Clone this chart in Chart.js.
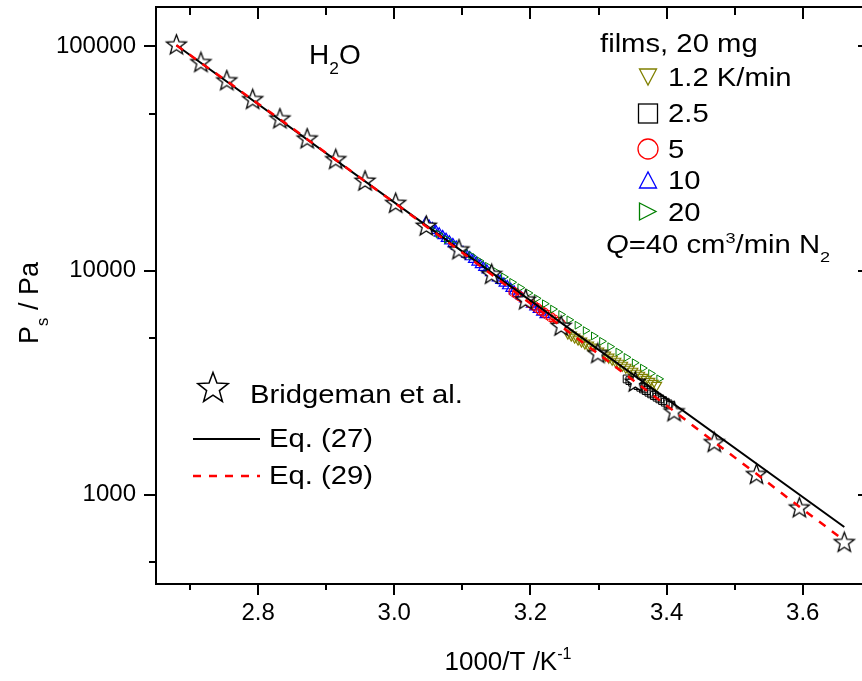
<!DOCTYPE html>
<html><head><meta charset="utf-8">
<script src="https://cdn.jsdelivr.net/npm/chart.js@4.4.0/dist/chart.umd.min.js"></script>
<style>html,body{margin:0;padding:0;background:#fff;}canvas{display:block;}</style>
</head><body>
<canvas id="c" width="862" height="681"></canvas>
<script>
// ---------- data ----------
const starX = [2.680, 2.716, 2.754, 2.792, 2.832, 2.872, 2.914, 2.957, 3.002, 3.047, 3.095, 3.143, 3.193, 3.245, 3.299, 3.354, 3.411, 3.470, 3.532, 3.595, 3.661];
const starP = [101300, 84500, 70100, 57800, 47400, 38600, 31200, 25000, 19900, 15750, 12350, 9590, 7380, 5630, 4250, 3170, 2340, 1705, 1228, 872, 611];

const eq27X = [2.680, 3.170, 3.661];
const eq27P = [101300, 8550, 718];

const eq29X = [2.680, 2.716, 2.754, 2.792, 2.832, 2.872, 2.914, 2.957, 3.002, 3.047, 3.095, 3.143, 3.193, 3.245, 3.299, 3.354, 3.411, 3.470, 3.532, 3.595, 3.661];
const eq29P = [101300, 84500, 70100, 57800, 47400, 38600, 31200, 25000, 19900, 15750, 12350, 9600, 7400, 5650, 4270, 3190, 2360, 1720, 1240, 885, 625];

const olive12X = [3.255, 3.260, 3.265, 3.270, 3.275, 3.280, 3.285, 3.290, 3.295, 3.300, 3.305, 3.310, 3.315, 3.320, 3.325, 3.330, 3.335, 3.340, 3.345, 3.350, 3.355, 3.360, 3.365, 3.370, 3.375, 3.380, 3.385];
const olive12P = [5262, 5155, 5050, 4947, 4846, 4747, 4650, 4555, 4462, 4371, 4282, 4195, 4109, 4025, 3943, 3863, 3784, 3707, 3631, 3557, 3485, 3414, 3344, 3276, 3209, 3144, 3080];

const black25X = [3.342, 3.346, 3.350, 3.354, 3.358, 3.362, 3.366, 3.370, 3.374, 3.378, 3.382, 3.386, 3.390, 3.394, 3.398, 3.402, 3.406];
const black25P = [3287, 3232, 3177, 3123, 3070, 3018, 2967, 2917, 2868, 2819, 2772, 2725, 2679, 2633, 2589, 2545, 2502];

const red5X = [3.175, 3.180, 3.185, 3.190, 3.195, 3.200, 3.205, 3.210, 3.215, 3.220, 3.225, 3.230, 3.235, 3.240, 3.245];
const red5P = [8035, 7849, 7665, 7487, 7311, 7141, 6975, 6812, 6653, 6497, 6346, 6198, 6053, 5912, 5774];

const blue10X = [3.046, 3.051, 3.056, 3.061, 3.066, 3.071, 3.076, 3.081, 3.086, 3.091, 3.096, 3.101, 3.106, 3.111, 3.116, 3.121, 3.126, 3.131, 3.136, 3.141, 3.146, 3.151, 3.156, 3.161, 3.166, 3.171, 3.176, 3.181, 3.186, 3.191, 3.196, 3.201, 3.206, 3.211, 3.216, 3.221];
const blue10P = [16350, 15918, 15488, 15076, 14673, 14284, 13900, 13530, 13167, 12817, 12474, 12142, 11816, 11502, 11194, 10896, 10605, 10323, 10046, 9779, 9517, 9264, 9016, 8776, 8541, 8314, 8091, 7876, 7665, 7461, 7261, 7068, 6879, 6696, 6516, 6343];

const green20X = [3.053, 3.065, 3.077, 3.089, 3.101, 3.113, 3.125, 3.137, 3.149, 3.161, 3.173, 3.185, 3.197, 3.209, 3.221, 3.233, 3.245, 3.257, 3.269, 3.281, 3.293, 3.305, 3.317, 3.329, 3.341, 3.353, 3.365, 3.377, 3.389];
const green20P = [15382, 14557, 13777, 13039, 12341, 11681, 11055, 10463, 9902, 9372, 8870, 8395, 7945, 7519, 7117, 6735, 6374, 6033, 5709, 5403, 5114, 4839, 4580, 4335, 4102, 3882, 3674, 3477, 3290];

const xMajorTicks = [2.8, 3.0, 3.2, 3.4, 3.6];
const xMinorTicks = [2.7, 2.9, 3.1, 3.3, 3.5];
const yMajorTicks = [1000, 10000, 100000];
const yMinorTicks = [500, 5000, 50000];

// ---------- helpers ----------
const FAMILY = "'Liberation Sans', Arial, Helvetica, sans-serif";
function pts(xs, ys) { return xs.map((x, i) => ({ x: x, y: ys[i] })); }

function starPath(ctx, cx, cy, R, ratio) {
  const r = R * ratio;
  ctx.beginPath();
  for (let k = 0; k < 10; k++) {
    const rad = -Math.PI / 2 + k * Math.PI / 5;
    const rr = (k % 2 === 0) ? R : r;
    const px = cx + rr * Math.cos(rad), py = cy + rr * Math.sin(rad);
    if (k === 0) ctx.moveTo(px, py); else ctx.lineTo(px, py);
  }
  ctx.closePath();
}
function makeStar(R, lw) {
  const c = document.createElement('canvas');
  const s = Math.ceil(2 * R + 4);
  c.width = s; c.height = s;
  const g = c.getContext('2d');
  starPath(g, s / 2, s / 2, R, 0.42);
  g.fillStyle = '#fff'; g.fill();
  g.lineWidth = lw; g.strokeStyle = '#000'; g.lineJoin = 'miter'; g.stroke();
  return c;
}

function richText(ctx, runs, x, y, size, sx, align) {
  const parts = runs.map(function (r) {
    const t = r[0], k = r[1] || '';
    const s = (k === 'sub' || k === 'sup') ? size * 0.62 : size;
    const f = (k === 'i' ? 'italic ' : '') + s + 'px ' + FAMILY;
    ctx.font = f;
    return { t: t, k: k, f: f, w: ctx.measureText(t).width * sx };
  });
  const total = parts.reduce((a, p) => a + p.w, 0);
  let cx = align === 'center' ? x - total / 2 : x;
  ctx.textAlign = 'left'; ctx.textBaseline = 'alphabetic';
  parts.forEach(function (p) {
    const dy = p.k === 'sub' ? size * 0.36 : (p.k === 'sup' ? -size * 0.42 : 0);
    ctx.save(); ctx.font = p.f; ctx.translate(cx, y + dy); ctx.scale(sx, 1);
    ctx.fillText(p.t, 0, 0); ctx.restore();
    cx += p.w;
  });
}

const deco = {
  id: 'deco',
  afterDraw(chart) {
    const ctx = chart.ctx, a = chart.chartArea, xs = chart.scales.x, ys = chart.scales.y;
    const R = a.right + 7;
    ctx.save();
    ctx.strokeStyle = '#000'; ctx.fillStyle = '#000'; ctx.lineWidth = 2; ctx.lineCap = 'butt';
    ctx.beginPath();
    ctx.moveTo(R, a.top); ctx.lineTo(a.left, a.top); ctx.lineTo(a.left, a.bottom); ctx.lineTo(R, a.bottom); ctx.lineTo(R, a.top);
    ctx.stroke();
    ctx.beginPath();
    xMajorTicks.forEach(v => { const p = Math.round(xs.getPixelForValue(v)); ctx.moveTo(p, a.bottom); ctx.lineTo(p, a.bottom + 11); ctx.moveTo(p, a.top); ctx.lineTo(p, a.top + 12); });
    xMinorTicks.forEach(v => { const p = Math.round(xs.getPixelForValue(v)); ctx.moveTo(p, a.bottom); ctx.lineTo(p, a.bottom + 6); ctx.moveTo(p, a.top); ctx.lineTo(p, a.top + 8); });
    yMajorTicks.forEach(v => { const p = Math.round(ys.getPixelForValue(v)); ctx.moveTo(a.left - 12, p); ctx.lineTo(a.left, p); ctx.moveTo(R - 11, p); ctx.lineTo(R, p); });
    yMinorTicks.forEach(v => { const p = Math.round(ys.getPixelForValue(v)); ctx.moveTo(a.left - 7, p); ctx.lineTo(a.left, p); ctx.moveTo(R - 6, p); ctx.lineTo(R, p); });
    ctx.stroke();

    richText(ctx, [['1000/T /K'], ['-1', 'sup']], 508, 670, 26, 1, 'center');
    ctx.save(); ctx.translate(38, 303); ctx.rotate(-Math.PI / 2);
    richText(ctx, [['P'], ['s', 'sub'], [' / Pa']], 0, 0, 27, 1, 'center');
    ctx.restore();

    richText(ctx, [['H'], ['2', 'sub'], ['O']], 309, 64, 28, 1, 'left');

    const LS = 25, SX = 1.17;
    starPath(ctx, 213, 388.5, 16, 0.42); ctx.save(); ctx.lineWidth = 1.5; ctx.fillStyle = '#fff'; ctx.fill(); ctx.stroke(); ctx.restore();
    richText(ctx, [['Bridgeman et al.']], 250, 403, LS, SX, 'left');
    ctx.beginPath(); ctx.moveTo(193, 439); ctx.lineTo(260, 439); ctx.lineWidth = 2; ctx.strokeStyle = '#000'; ctx.stroke();
    richText(ctx, [['Eq. (27)']], 269, 447, LS, SX, 'left');
    ctx.save(); ctx.setLineDash([8, 8]); ctx.beginPath(); ctx.moveTo(193, 476); ctx.lineTo(260, 476); ctx.lineWidth = 2.5; ctx.strokeStyle = '#ff0000'; ctx.stroke(); ctx.restore();
    richText(ctx, [['Eq. (29)']], 269, 484, LS, SX, 'left');

    richText(ctx, [['films, 20 mg']], 600, 52, LS, SX, 'left');
    ctx.lineWidth = 1.3;
    ctx.strokeStyle = '#808000'; ctx.beginPath(); ctx.moveTo(639.5, 69); ctx.lineTo(656.5, 69); ctx.lineTo(648, 85); ctx.closePath(); ctx.stroke();
    ctx.strokeStyle = '#000'; ctx.strokeRect(638.5, 104, 19, 19);
    ctx.strokeStyle = '#ff0000'; ctx.beginPath(); ctx.arc(648, 149, 10, 0, Math.PI * 2); ctx.stroke();
    ctx.strokeStyle = '#0000ff'; ctx.beginPath(); ctx.moveTo(639.5, 188); ctx.lineTo(656.5, 188); ctx.lineTo(648, 172); ctx.closePath(); ctx.stroke();
    ctx.strokeStyle = '#008000'; ctx.beginPath(); ctx.moveTo(639.5, 203); ctx.lineTo(639.5, 220); ctx.lineTo(656, 211.5); ctx.closePath(); ctx.stroke();
    ctx.fillStyle = '#000';
    richText(ctx, [['1.2 K/min']], 668, 86, LS, SX, 'left');
    richText(ctx, [['2.5']], 668, 122, LS, SX, 'left');
    richText(ctx, [['5']], 668, 158, LS, SX, 'left');
    richText(ctx, [['10']], 668, 189, LS, SX, 'left');
    richText(ctx, [['20']], 668, 221, LS, SX, 'left');
    richText(ctx, [['Q', 'i'], ['=40 cm'], ['3', 'sup'], ['/min N'], ['2', 'sub']], 606, 253, LS, SX, 'left');
    ctx.restore();
  }
};

const starImg = makeStar(10.5, 1.3);

// lower index = drawn on top
const datasets = [
  { label: 'Eq. (29)', data: pts(eq29X, eq29P), showLine: true, borderColor: '#ff0000', borderWidth: 2.5, borderDash: [8, 8], pointRadius: 0, pointHoverRadius: 0, fill: false, tension: 0 },
  { label: 'Eq. (27)', data: pts(eq27X, eq27P), showLine: true, borderColor: '#000000', borderWidth: 2, pointRadius: 0, pointHoverRadius: 0, fill: false, tension: 0 },
  { label: 'Bridgeman et al.', data: pts(starX, starP), pointStyle: starImg, pointRadius: 10 },
  { label: '2.5', data: pts(black25X, black25P), pointStyle: 'rect', pointRadius: 5.5, pointBorderColor: '#000000', pointBackgroundColor: 'rgba(0,0,0,0)', pointBorderWidth: 1, borderColor: '#000000', backgroundColor: 'rgba(0,0,0,0)' },
  { label: '1.2 K/min', data: pts(olive12X, olive12P), pointStyle: 'triangle', pointRotation: 180, pointRadius: 6, pointBorderColor: '#808000', pointBackgroundColor: 'rgba(0,0,0,0)', pointBorderWidth: 1.2, borderColor: '#808000', backgroundColor: 'rgba(0,0,0,0)' },
  { label: '20', data: pts(green20X, green20P), pointStyle: 'triangle', pointRotation: 90, pointRadius: 4.5, pointBorderColor: '#008000', pointBackgroundColor: 'rgba(0,0,0,0)', pointBorderWidth: 1, borderColor: '#008000', backgroundColor: 'rgba(0,0,0,0)' },
  { label: '5', data: pts(red5X, red5P), pointStyle: 'circle', pointRadius: 4.5, pointBorderColor: '#ff0000', pointBackgroundColor: 'rgba(0,0,0,0)', pointBorderWidth: 1.2, borderColor: '#ff0000', backgroundColor: 'rgba(0,0,0,0)' },
  { label: '10', data: pts(blue10X, blue10P), pointStyle: 'triangle', pointRadius: 5.5, pointBorderColor: '#0000ff', pointBackgroundColor: 'rgba(0,0,0,0)', pointBorderWidth: 1.2, borderColor: '#0000ff', backgroundColor: 'rgba(0,0,0,0)' }
];

new Chart(document.getElementById('c'), {
  type: 'scatter',
  data: { datasets: datasets },
  options: {
    responsive: false, animation: false, devicePixelRatio: 1, events: [],
    layout: { autoPadding: false, padding: { top: 7, right: 0, bottom: 0, left: 0 } },
    plugins: { legend: { display: false }, tooltip: { enabled: false } },
    scales: {
      x: {
        type: 'linear', min: 2.65, max: 3.687,
        grid: { display: false, drawTicks: true, tickLength: 11 },
        border: { display: false },
        ticks: { font: { family: FAMILY, size: 24 }, color: '#000', padding: 4, autoSkip: false, maxRotation: 0, callback: v => Number(v).toFixed(1) },
        afterBuildTicks: s => { s.ticks = xMajorTicks.map(v => ({ value: v })); },
        afterFit: s => { s.height = 97; s.paddingLeft = 0; s.paddingRight = 0; }
      },
      y: {
        type: 'logarithmic', min: 400, max: 150000,
        grid: { display: false, drawTicks: true, tickLength: 11 },
        border: { display: false },
        ticks: { font: { family: FAMILY, size: 24 }, color: '#000', padding: 9, autoSkip: false, callback: v => String(v) },
        afterBuildTicks: s => { s.ticks = yMajorTicks.map(v => ({ value: v })); },
        afterFit: s => { s.width = 156; s.paddingTop = 0; s.paddingBottom = 0; }
      }
    }
  },
  plugins: [deco]
});
</script>
</body></html>
